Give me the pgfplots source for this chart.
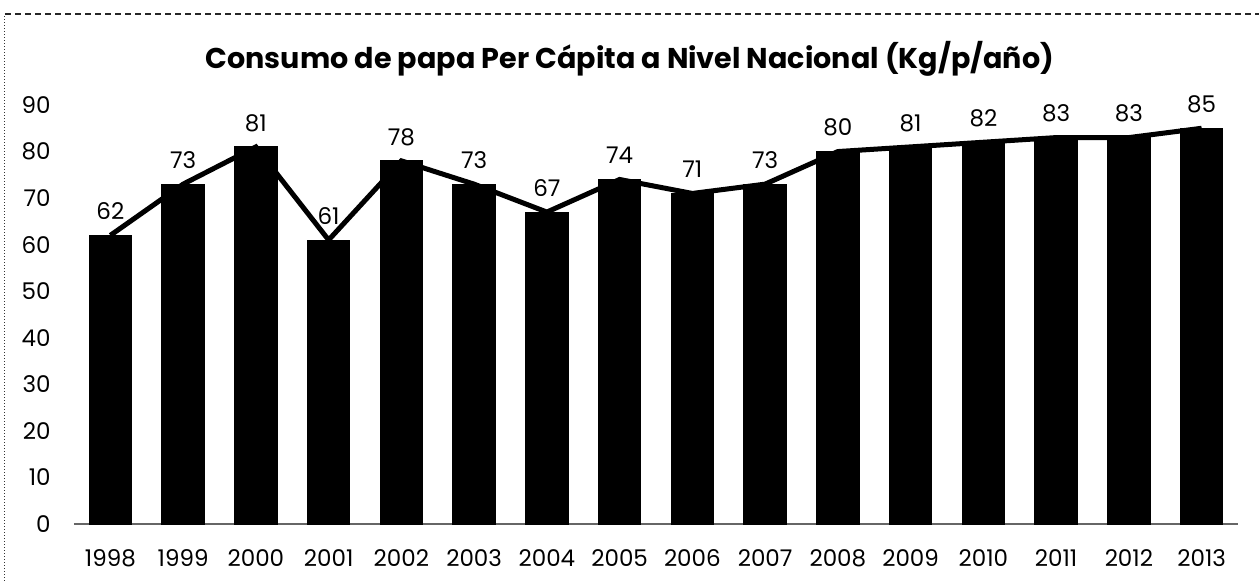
\documentclass[border=0pt]{standalone}
\usepackage{pgfplots}
\pgfplotsset{compat=1.18}
\usepackage{fontspec}
\setmainfont{Poppins}

% consumo per capita (Kg/p/año), 1998-2013 at positions 0..15
\pgfplotstableread{
idx val
0  62
1  73
2  81
3  61
4  78
5  73
6  67
7  74
8  71
9  73
10 80
11 81
12 82
13 83
14 83
15 85
}\consumo

\begin{document}
\begin{tikzpicture}
% page = 1259x581 px at 0.5pt per px, axis box corner at px (74,524)
\useasboundingbox (-37pt,-28.5pt) rectangle (592.5pt,262pt);
\draw[black!80, line width=0.5pt, densely dotted] (-34.5pt,-28.5pt) -- (-34.5pt,255pt);
\draw[black!85, line width=0.6pt, densely dashed] (-34.5pt,255pt) -- (592.5pt,255pt);

\begin{axis}[
    at={(0,0)}, anchor=south west,
    scale only axis,
    width=582pt, height=209.5pt,
    xmin=-0.5, xmax=15.5,
    ymin=0, ymax=90,
    clip=false,
    separate axis lines,
    axis x line*=bottom,
    axis y line*=left,
    x axis line style={black!60, line width=0.6pt, -},
    y axis line style={draw=none},
    tick style={draw=none},
    xtick={0,...,15},
    xticklabels={1998,1999,2000,2001,2002,2003,2004,2005,2006,2007,2008,2009,2010,2011,2012,2013},
    ytick={0,10,...,90},
    /pgf/number format/assume math mode=true,
    tick label style={font=\fontsize{11.5}{13}\selectfont, inner sep=0pt},
    xticklabel style={anchor=center, yshift=-17pt},
    yticklabel style={anchor=east, xshift=-11.5pt},
]

\addplot[ybar, bar width=21.25pt, fill=black, draw=black] table[x=idx, y=val] {\consumo};

\addplot[
    black, line width=2.5pt, mark=none,
    nodes near coords,
    every node near coord/.append style={
        font=\fontsize{11.5}{13}\selectfont,
        anchor=center, yshift=12pt, inner sep=0pt, text=black},
] table[x=idx, y=val] {\consumo};

\node[font=\fontsize{14.3}{17}\selectfont\bfseries, anchor=center]
    at (axis cs:7.14,90) [yshift=23pt] {Consumo de papa Per Cápita a Nivel Nacional (Kg/p/año)};
\end{axis}
\end{tikzpicture}
\end{document}
